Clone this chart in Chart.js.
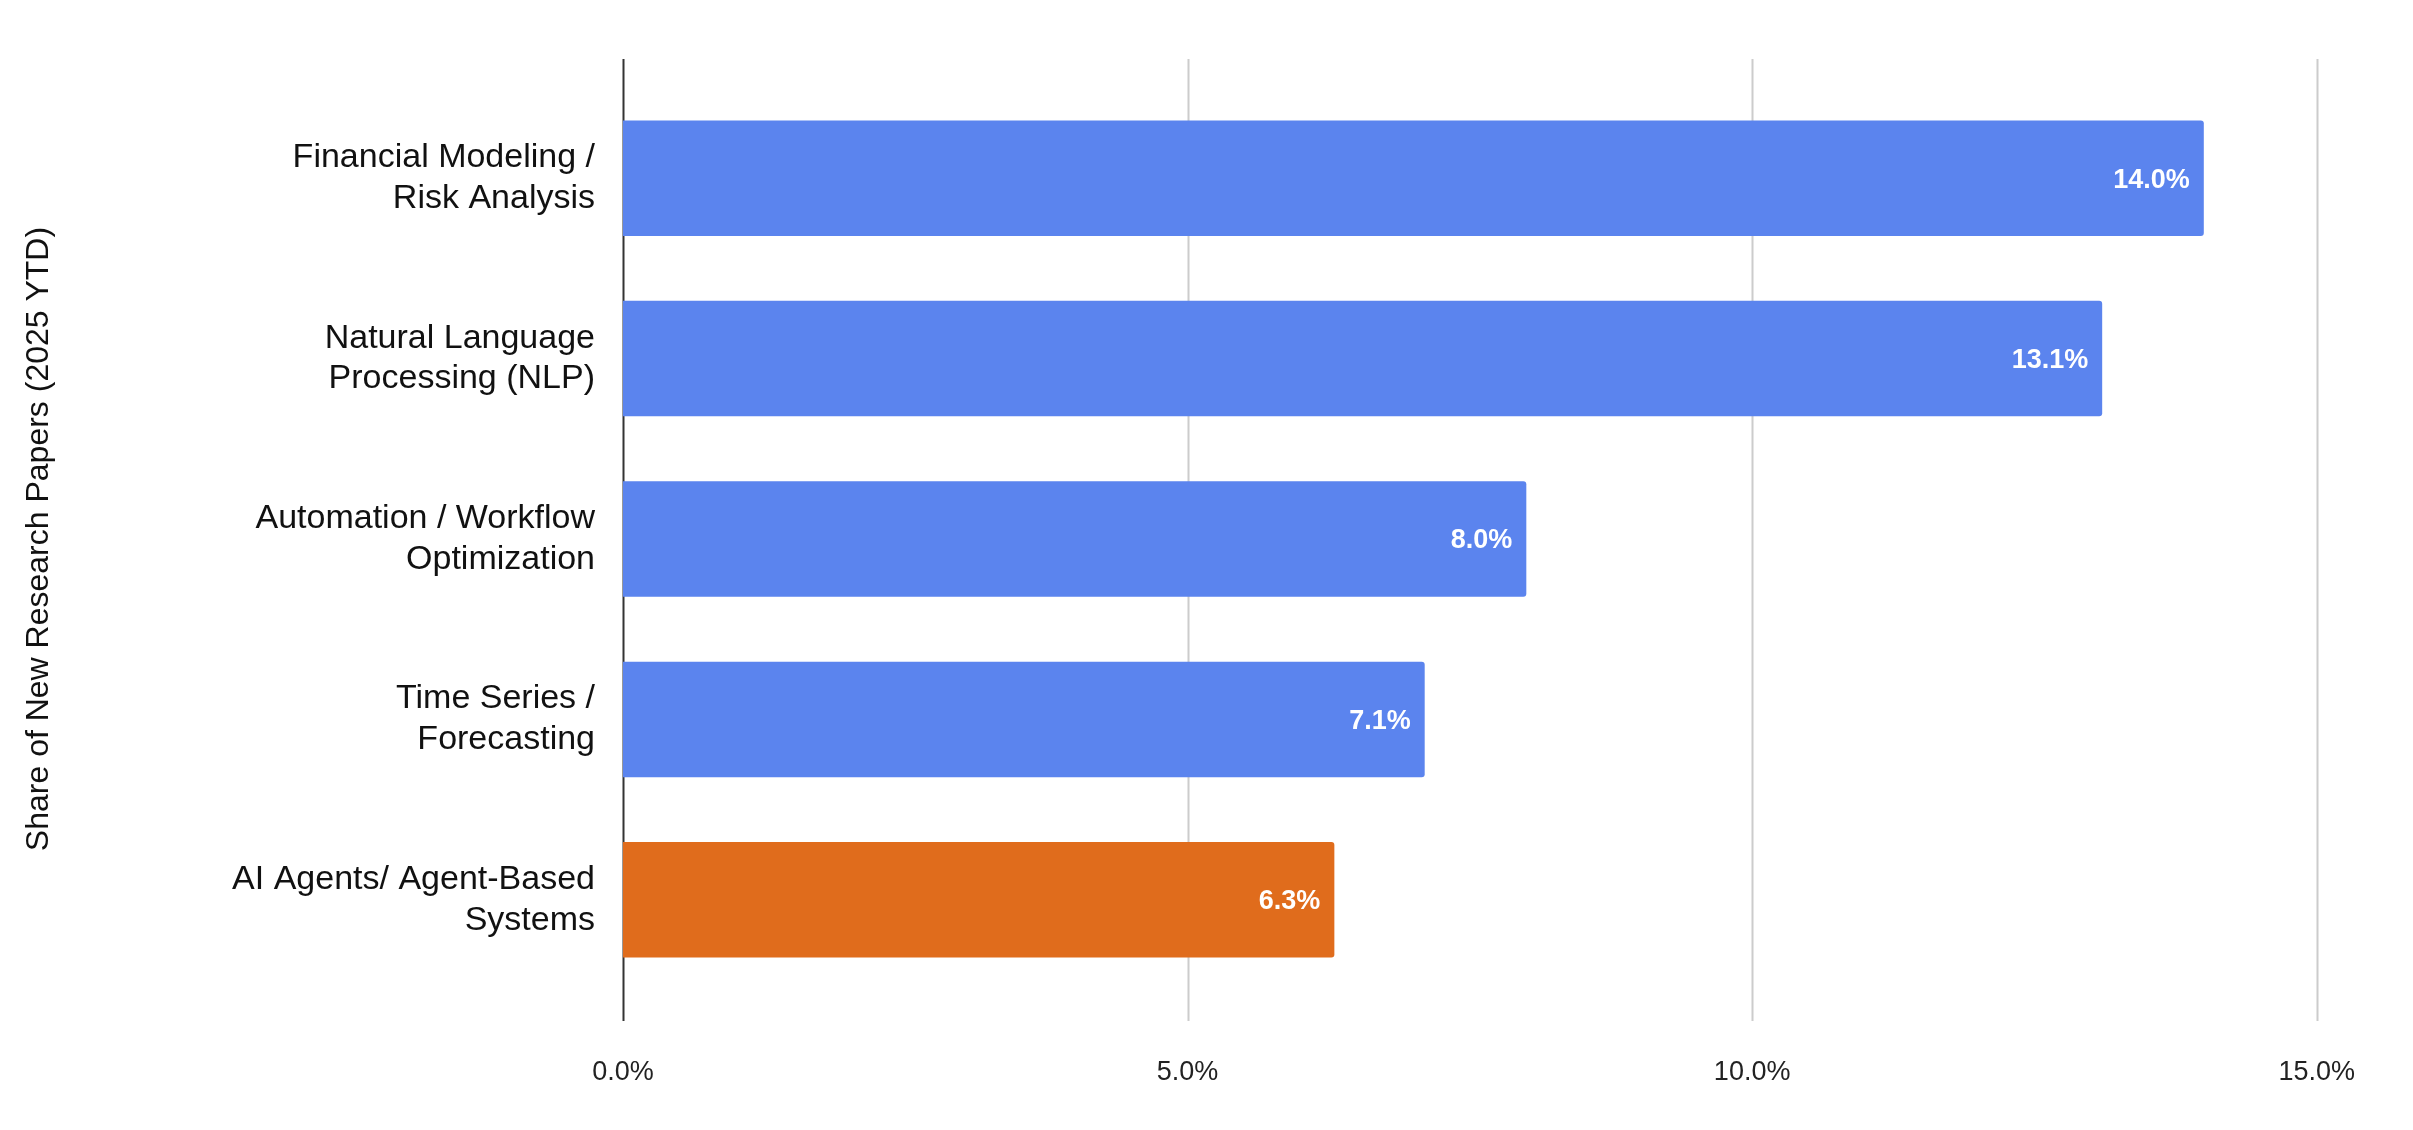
<!DOCTYPE html>
<html>
<head>
<meta charset="utf-8">
<script src="https://cdn.jsdelivr.net/npm/chart.js@4/dist/chart.umd.min.js"></script>
<style>
  html, body { margin: 0; padding: 0; background: #fff; }
  #wrap { width: 2413px; height: 1130px; }
</style>
</head>
<body>
<div id="wrap"><canvas id="chart"></canvas></div>
<script>
const categories = [
    ['Financial Modeling /', 'Risk Analysis'],
    ['Natural Language', 'Processing (NLP)'],
    ['Automation / Workflow', 'Optimization'],
    ['Time Series /', 'Forecasting'],
    ['AI Agents/ Agent-Based', 'Systems']
];
const shares = [14.0, 13.1, 8.0, 7.1, 6.3];
const barColors = ['#5b84ee', '#5b84ee', '#5b84ee', '#5b84ee', '#e06c1c'];
const xTicks = [0, 5, 10, 15];

const FONT = 'Liberation Sans, Arial, sans-serif';

// grid lines run a bit past the bands, like the original
const gridLines = {
    id: 'gridLines',
    beforeDatasetsDraw(chart) {
        const { ctx, chartArea, scales } = chart;
        ctx.save();
        xTicks.forEach(v => {
            const x = Math.round(scales.x.getPixelForValue(v)) + 0.5;
            ctx.strokeStyle = v === 0 ? '#333333' : '#cccccc';
            ctx.lineWidth = 2;
            ctx.beginPath();
            ctx.moveTo(x, chartArea.top - 29);
            ctx.lineTo(x, chartArea.bottom + 31);
            ctx.stroke();
        });
        ctx.restore();
    }
};

const valueLabels = {
    id: 'valueLabels',
    afterDatasetsDraw(chart) {
        const { ctx } = chart;
        const meta = chart.getDatasetMeta(0);
        ctx.save();
        ctx.fillStyle = '#ffffff';
        ctx.font = 'bold 27px ' + FONT;
        ctx.textAlign = 'right';
        ctx.textBaseline = 'middle';
        meta.data.forEach((bar, i) => {
            ctx.fillText(shares[i].toFixed(1) + '%', bar.x - 14, bar.y + 2);
        });
        ctx.restore();
    }
};

new Chart(document.getElementById('chart'), {
    type: 'bar',
    data: {
        labels: categories,
        datasets: [{
            data: shares,
            backgroundColor: barColors,
            borderRadius: 3,
            borderSkipped: 'start',
            categoryPercentage: 1,
            barPercentage: 0.64
        }]
    },
    options: {
        indexAxis: 'y',
        responsive: true,
        maintainAspectRatio: false,
        animation: false,
        layout: { padding: { left: 20, right: 42, top: 88, bottom: 0 } },
        plugins: { legend: { display: false }, tooltip: { enabled: false } },
        scales: {
            x: {
                min: 0, max: 15,
                afterBuildTicks: s => { s.ticks = xTicks.map(v => ({ value: v })); },
                afterFit: s => { s.height = 140; },
                grid: { display: false },
                border: { display: false },
                ticks: {
                    padding: 58,
                    color: '#222',
                    font: { family: FONT, size: 27 },
                    callback: v => v.toFixed(1) + '%'
                }
            },
            y: {
                afterFit: s => { s.width = 603; },
                grid: { display: false },
                border: { display: false },
                ticks: {
                    padding: 20,
                    color: '#111',
                    font: { family: FONT, size: 34 },
                    lineHeight: 1.55
                },
                title: {
                    display: true,
                    text: 'Share of New Research Papers (2025 YTD)',
                    color: '#111',
                    font: { family: FONT, size: 32 },
                    padding: { top: 0, bottom: 0 }
                }
            }
        }
    },
    plugins: [gridLines, valueLabels]
});
</script>
</body>
</html>
